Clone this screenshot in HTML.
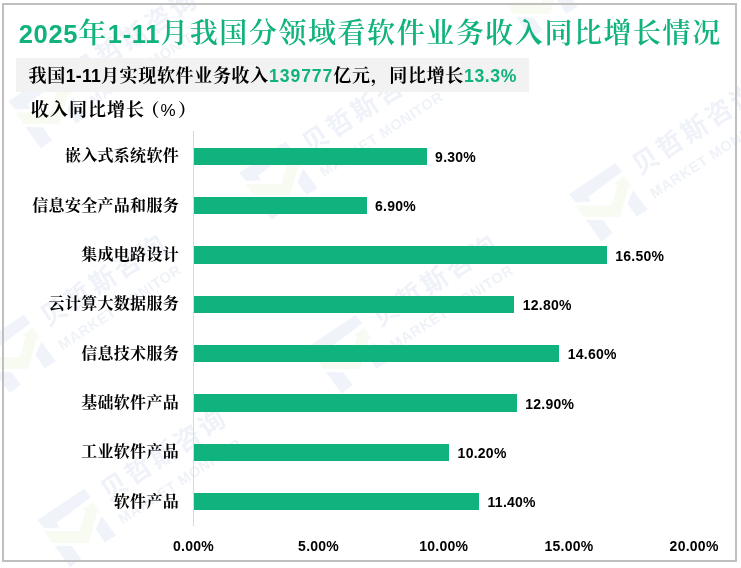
<!DOCTYPE html>
<html lang="zh-CN"><head><meta charset="utf-8"><title>2025年1-11月我国分领域看软件业务收入同比增长情况</title>
<style>
html,body{margin:0;padding:0;background:#fff;}
body{width:741px;height:568px;position:relative;overflow:hidden;font-family:"Liberation Sans","Noto Serif CJK SC",sans-serif;}
.wm{position:absolute;left:0;top:0;}
.frame{position:absolute;left:2px;top:3px;width:731px;height:555px;border:2px solid #bfbfbf;box-sizing:content-box;}
.title{position:absolute;left:-0.3px;top:13.5px;width:741px;text-align:center;white-space:nowrap;color:#10b27d;font-weight:600;font-size:28px;letter-spacing:1.55px;line-height:40px;font-family:"Liberation Sans","Noto Serif CJK SC",serif;}
.title b{font-size:25.5px;font-weight:700;letter-spacing:0.7px;}
.band{position:absolute;left:16px;top:58px;width:513px;height:33.5px;background:#f2f2f2;}
.sub{position:absolute;left:28.5px;top:59.5px;height:33px;line-height:33px;white-space:nowrap;font-size:18px;letter-spacing:0.67px;font-weight:700;color:#000;font-family:"Liberation Sans","Noto Serif CJK SC",serif;}
.sub b{font-size:17.6px;letter-spacing:0.6px}
.sub .g{color:#10b27d}
.sub .n1{letter-spacing:0.2px}
.sub .n2{letter-spacing:0.95px}
.unit{position:absolute;left:31px;top:94.9px;height:30px;line-height:30px;white-space:nowrap;font-size:18px;letter-spacing:1.0px;font-weight:700;color:#000;font-family:"Liberation Sans","Noto Serif CJK SC",serif;}
.unit span{margin-left:-3.6px;letter-spacing:0.4px}
.unit i{font-style:normal;font-weight:400;font-size:17px;margin:0 2px 0 0.7px;}
.axis{position:absolute;left:193px;top:131px;width:1px;height:395px;background:#d9d9d9;}
.cat{position:absolute;left:0;width:179px;text-align:right;height:24px;line-height:24px;font-size:16px;letter-spacing:0.3px;font-weight:700;color:#000;white-space:nowrap;font-family:"Liberation Serif","Noto Serif CJK SC",serif;}
.bar{position:absolute;left:194px;height:17.4px;background:#10b27d;}
.val{position:absolute;height:20px;line-height:20px;font-size:14px;letter-spacing:0.25px;font-weight:700;color:#000;white-space:nowrap;}
.tick{position:absolute;top:536px;width:80px;text-align:center;height:20px;line-height:20px;font-size:14px;letter-spacing:0.25px;font-weight:700;color:#000;white-space:nowrap;}
</style></head><body>
<svg class="wm" width="741" height="568" viewBox="0 0 741 568"><polygon fill="#f0f4fa" points="55.0,69.9 61.6,78.6 27.7,104.0 30.4,108.8 15.3,109.5 8.5,101.3"/><polygon fill="#f8fbf2" points="15.3,112.4 51.0,112.4 56.9,91.3 53.4,90.5 63.7,83.1 71.9,94.8 68.0,93.7 59.7,124.1 23.3,124.1"/><polygon fill="#f0f4fa" points="25.3,127.0 42.6,127.3 52.3,140.1 41.0,148.5"/><polygon fill="#f0f4fa" points="72.7,97.2 87.1,116.7 75.9,123.8 66.9,110.3"/>
<text transform="translate(79.2,82.4) rotate(-33)" font-size="26" font-weight="700" letter-spacing="3.1" fill="#eff2f8" font-family="Liberation Sans, Noto Sans CJK SC, sans-serif">贝哲斯咨询</text>
<text transform="translate(93.5,105.8) rotate(-33)" font-size="14.5" font-weight="700" textLength="143" fill="#eff2f8" font-family="Liberation Sans, sans-serif">MARKET MONITOR</text>
<polygon fill="#f0f4fa" points="285.5,141.4 292.1,150.1 258.2,175.5 260.9,180.3 245.8,181.0 239.0,172.8"/><polygon fill="#f8fbf2" points="245.8,183.9 281.5,183.9 287.4,162.8 283.9,162.0 294.2,154.6 302.4,166.3 298.5,165.2 290.2,195.6 253.8,195.6"/><polygon fill="#f0f4fa" points="255.8,198.5 273.1,198.8 282.8,211.6 271.5,220.0"/><polygon fill="#f0f4fa" points="303.2,168.7 317.6,188.2 306.4,195.3 297.4,181.8"/>
<text transform="translate(309.7,153.9) rotate(-33)" font-size="26" font-weight="700" letter-spacing="3.1" fill="#eff2f8" font-family="Liberation Sans, Noto Sans CJK SC, sans-serif">贝哲斯咨询</text>
<text transform="translate(324.0,177.3) rotate(-33)" font-size="14.5" font-weight="700" textLength="143" fill="#eff2f8" font-family="Liberation Sans, sans-serif">MARKET MONITOR</text>
<polygon fill="#f0f4fa" points="615.5,162.9 622.1,171.6 588.2,197.0 590.9,201.8 575.8,202.5 569.0,194.3"/><polygon fill="#f8fbf2" points="575.8,205.4 611.5,205.4 617.4,184.3 613.9,183.5 624.2,176.1 632.4,187.8 628.5,186.7 620.2,217.1 583.8,217.1"/><polygon fill="#f0f4fa" points="585.8,220.0 603.1,220.3 612.8,233.1 601.5,241.5"/><polygon fill="#f0f4fa" points="633.2,190.2 647.6,209.7 636.4,216.8 627.4,203.3"/>
<text transform="translate(639.7,175.4) rotate(-33)" font-size="26" font-weight="700" letter-spacing="3.1" fill="#eff2f8" font-family="Liberation Sans, Noto Sans CJK SC, sans-serif">贝哲斯咨询</text>
<text transform="translate(654.0,198.8) rotate(-33)" font-size="14.5" font-weight="700" textLength="143" fill="#eff2f8" font-family="Liberation Sans, sans-serif">MARKET MONITOR</text>
<polygon fill="#f0f4fa" points="23.7,314.5 30.3,323.2 -3.6,348.6 -0.9,353.4 -16.0,354.1 -22.8,345.9"/><polygon fill="#f8fbf2" points="-16.0,357.0 19.7,357.0 25.6,335.9 22.1,335.1 32.4,327.7 40.6,339.4 36.7,338.3 28.4,368.7 -8.0,368.7"/><polygon fill="#f0f4fa" points="-6.0,371.6 11.3,371.9 21.0,384.7 9.7,393.1"/><polygon fill="#f0f4fa" points="41.4,341.8 55.8,361.3 44.6,368.4 35.6,354.9"/>
<text transform="translate(47.9,327.0) rotate(-33)" font-size="26" font-weight="700" letter-spacing="3.1" fill="#eff2f8" font-family="Liberation Sans, Noto Sans CJK SC, sans-serif">贝哲斯咨询</text>
<text transform="translate(62.2,350.4) rotate(-33)" font-size="14.5" font-weight="700" textLength="143" fill="#eff2f8" font-family="Liberation Sans, sans-serif">MARKET MONITOR</text>
<polygon fill="#f0f4fa" points="355.5,314.9 362.1,323.6 328.2,349.0 330.9,353.8 315.8,354.5 309.0,346.3"/><polygon fill="#f8fbf2" points="315.8,357.4 351.5,357.4 357.4,336.3 353.9,335.5 364.2,328.1 372.4,339.8 368.5,338.7 360.2,369.1 323.8,369.1"/><polygon fill="#f0f4fa" points="325.8,372.0 343.1,372.3 352.8,385.1 341.5,393.5"/><polygon fill="#f0f4fa" points="373.2,342.2 387.6,361.7 376.4,368.8 367.4,355.3"/>
<text transform="translate(379.7,327.4) rotate(-33)" font-size="26" font-weight="700" letter-spacing="3.1" fill="#eff2f8" font-family="Liberation Sans, Noto Sans CJK SC, sans-serif">贝哲斯咨询</text>
<text transform="translate(394.0,350.8) rotate(-33)" font-size="14.5" font-weight="700" textLength="143" fill="#eff2f8" font-family="Liberation Sans, sans-serif">MARKET MONITOR</text>
<polygon fill="#f0f4fa" points="84.0,488.7 90.6,497.4 56.7,522.8 59.4,527.6 44.3,528.3 37.5,520.1"/><polygon fill="#f8fbf2" points="44.3,531.2 80.0,531.2 85.9,510.1 82.4,509.3 92.7,501.9 100.9,513.6 97.0,512.5 88.7,542.9 52.3,542.9"/><polygon fill="#f0f4fa" points="54.3,545.8 71.6,546.1 81.3,558.9 70.0,567.3"/><polygon fill="#f0f4fa" points="101.7,516.0 116.1,535.5 104.9,542.6 95.9,529.1"/>
<text transform="translate(108.2,501.2) rotate(-33)" font-size="26" font-weight="700" letter-spacing="3.1" fill="#eff2f8" font-family="Liberation Sans, Noto Sans CJK SC, sans-serif">贝哲斯咨询</text>
<text transform="translate(122.5,524.6) rotate(-33)" font-size="14.5" font-weight="700" textLength="143" fill="#eff2f8" font-family="Liberation Sans, sans-serif">MARKET MONITOR</text>
<polygon fill="#f0f4fa" points="545.5,-40.1 552.1,-31.4 518.2,-6.0 520.9,-1.2 505.8,-0.5 499.0,-8.7"/><polygon fill="#f8fbf2" points="505.8,2.4 541.5,2.4 547.4,-18.7 543.9,-19.5 554.2,-26.9 562.4,-15.2 558.5,-16.3 550.2,14.1 513.8,14.1"/><polygon fill="#f0f4fa" points="515.8,17.0 533.1,17.3 542.8,30.1 531.5,38.5"/><polygon fill="#f0f4fa" points="563.2,-12.8 577.6,6.7 566.4,13.8 557.4,0.3"/>
<text transform="translate(569.7,-27.6) rotate(-33)" font-size="26" font-weight="700" letter-spacing="3.1" fill="#eff2f8" font-family="Liberation Sans, Noto Sans CJK SC, sans-serif">贝哲斯咨询</text>
<text transform="translate(584.0,-4.2) rotate(-33)" font-size="14.5" font-weight="700" textLength="143" fill="#eff2f8" font-family="Liberation Sans, sans-serif">MARKET MONITOR</text></svg>
<div class="frame"></div>
<div class="title"><b>2025</b>年<b>1-11</b>月我国分领域看软件业务收入同比增长情况</div>
<div class="band"></div>
<div class="sub">我国<b class="n1">1-11</b>月实现软件业务收入<b class="g n2">139777</b>亿元，同比增长<b class="g">13.3%</b></div>
<div class="unit">收入同比增长<span>（<i>%</i>）</span></div>
<div class="axis"></div>
<div class="cat" style="top:144.4px">嵌入式系统软件</div>
<div class="bar" style="top:147.8px;width:232.8px"></div>
<div class="val" style="top:147.0px;left:435.1px">9.30%</div>
<div class="cat" style="top:193.7px">信息安全产品和服务</div>
<div class="bar" style="top:197.1px;width:172.7px"></div>
<div class="val" style="top:196.3px;left:375.0px">6.90%</div>
<div class="cat" style="top:243.0px">集成电路设计</div>
<div class="bar" style="top:246.4px;width:413.0px"></div>
<div class="val" style="top:245.6px;left:615.3px">16.50%</div>
<div class="cat" style="top:292.3px">云计算大数据服务</div>
<div class="bar" style="top:295.7px;width:320.4px"></div>
<div class="val" style="top:294.9px;left:522.7px">12.80%</div>
<div class="cat" style="top:341.6px">信息技术服务</div>
<div class="bar" style="top:345.0px;width:365.4px"></div>
<div class="val" style="top:344.2px;left:567.7px">14.60%</div>
<div class="cat" style="top:390.9px">基础软件产品</div>
<div class="bar" style="top:394.3px;width:322.9px"></div>
<div class="val" style="top:393.5px;left:525.2px">12.90%</div>
<div class="cat" style="top:440.2px">工业软件产品</div>
<div class="bar" style="top:443.6px;width:255.3px"></div>
<div class="val" style="top:442.8px;left:457.6px">10.20%</div>
<div class="cat" style="top:489.5px">软件产品</div>
<div class="bar" style="top:492.9px;width:285.3px"></div>
<div class="val" style="top:492.1px;left:487.6px">11.40%</div>
<div class="tick" style="left:153.5px">0.00%</div>
<div class="tick" style="left:278.6px">5.00%</div>
<div class="tick" style="left:403.8px">10.00%</div>
<div class="tick" style="left:529.0px">15.00%</div>
<div class="tick" style="left:654.1px">20.00%</div>
</body></html>
